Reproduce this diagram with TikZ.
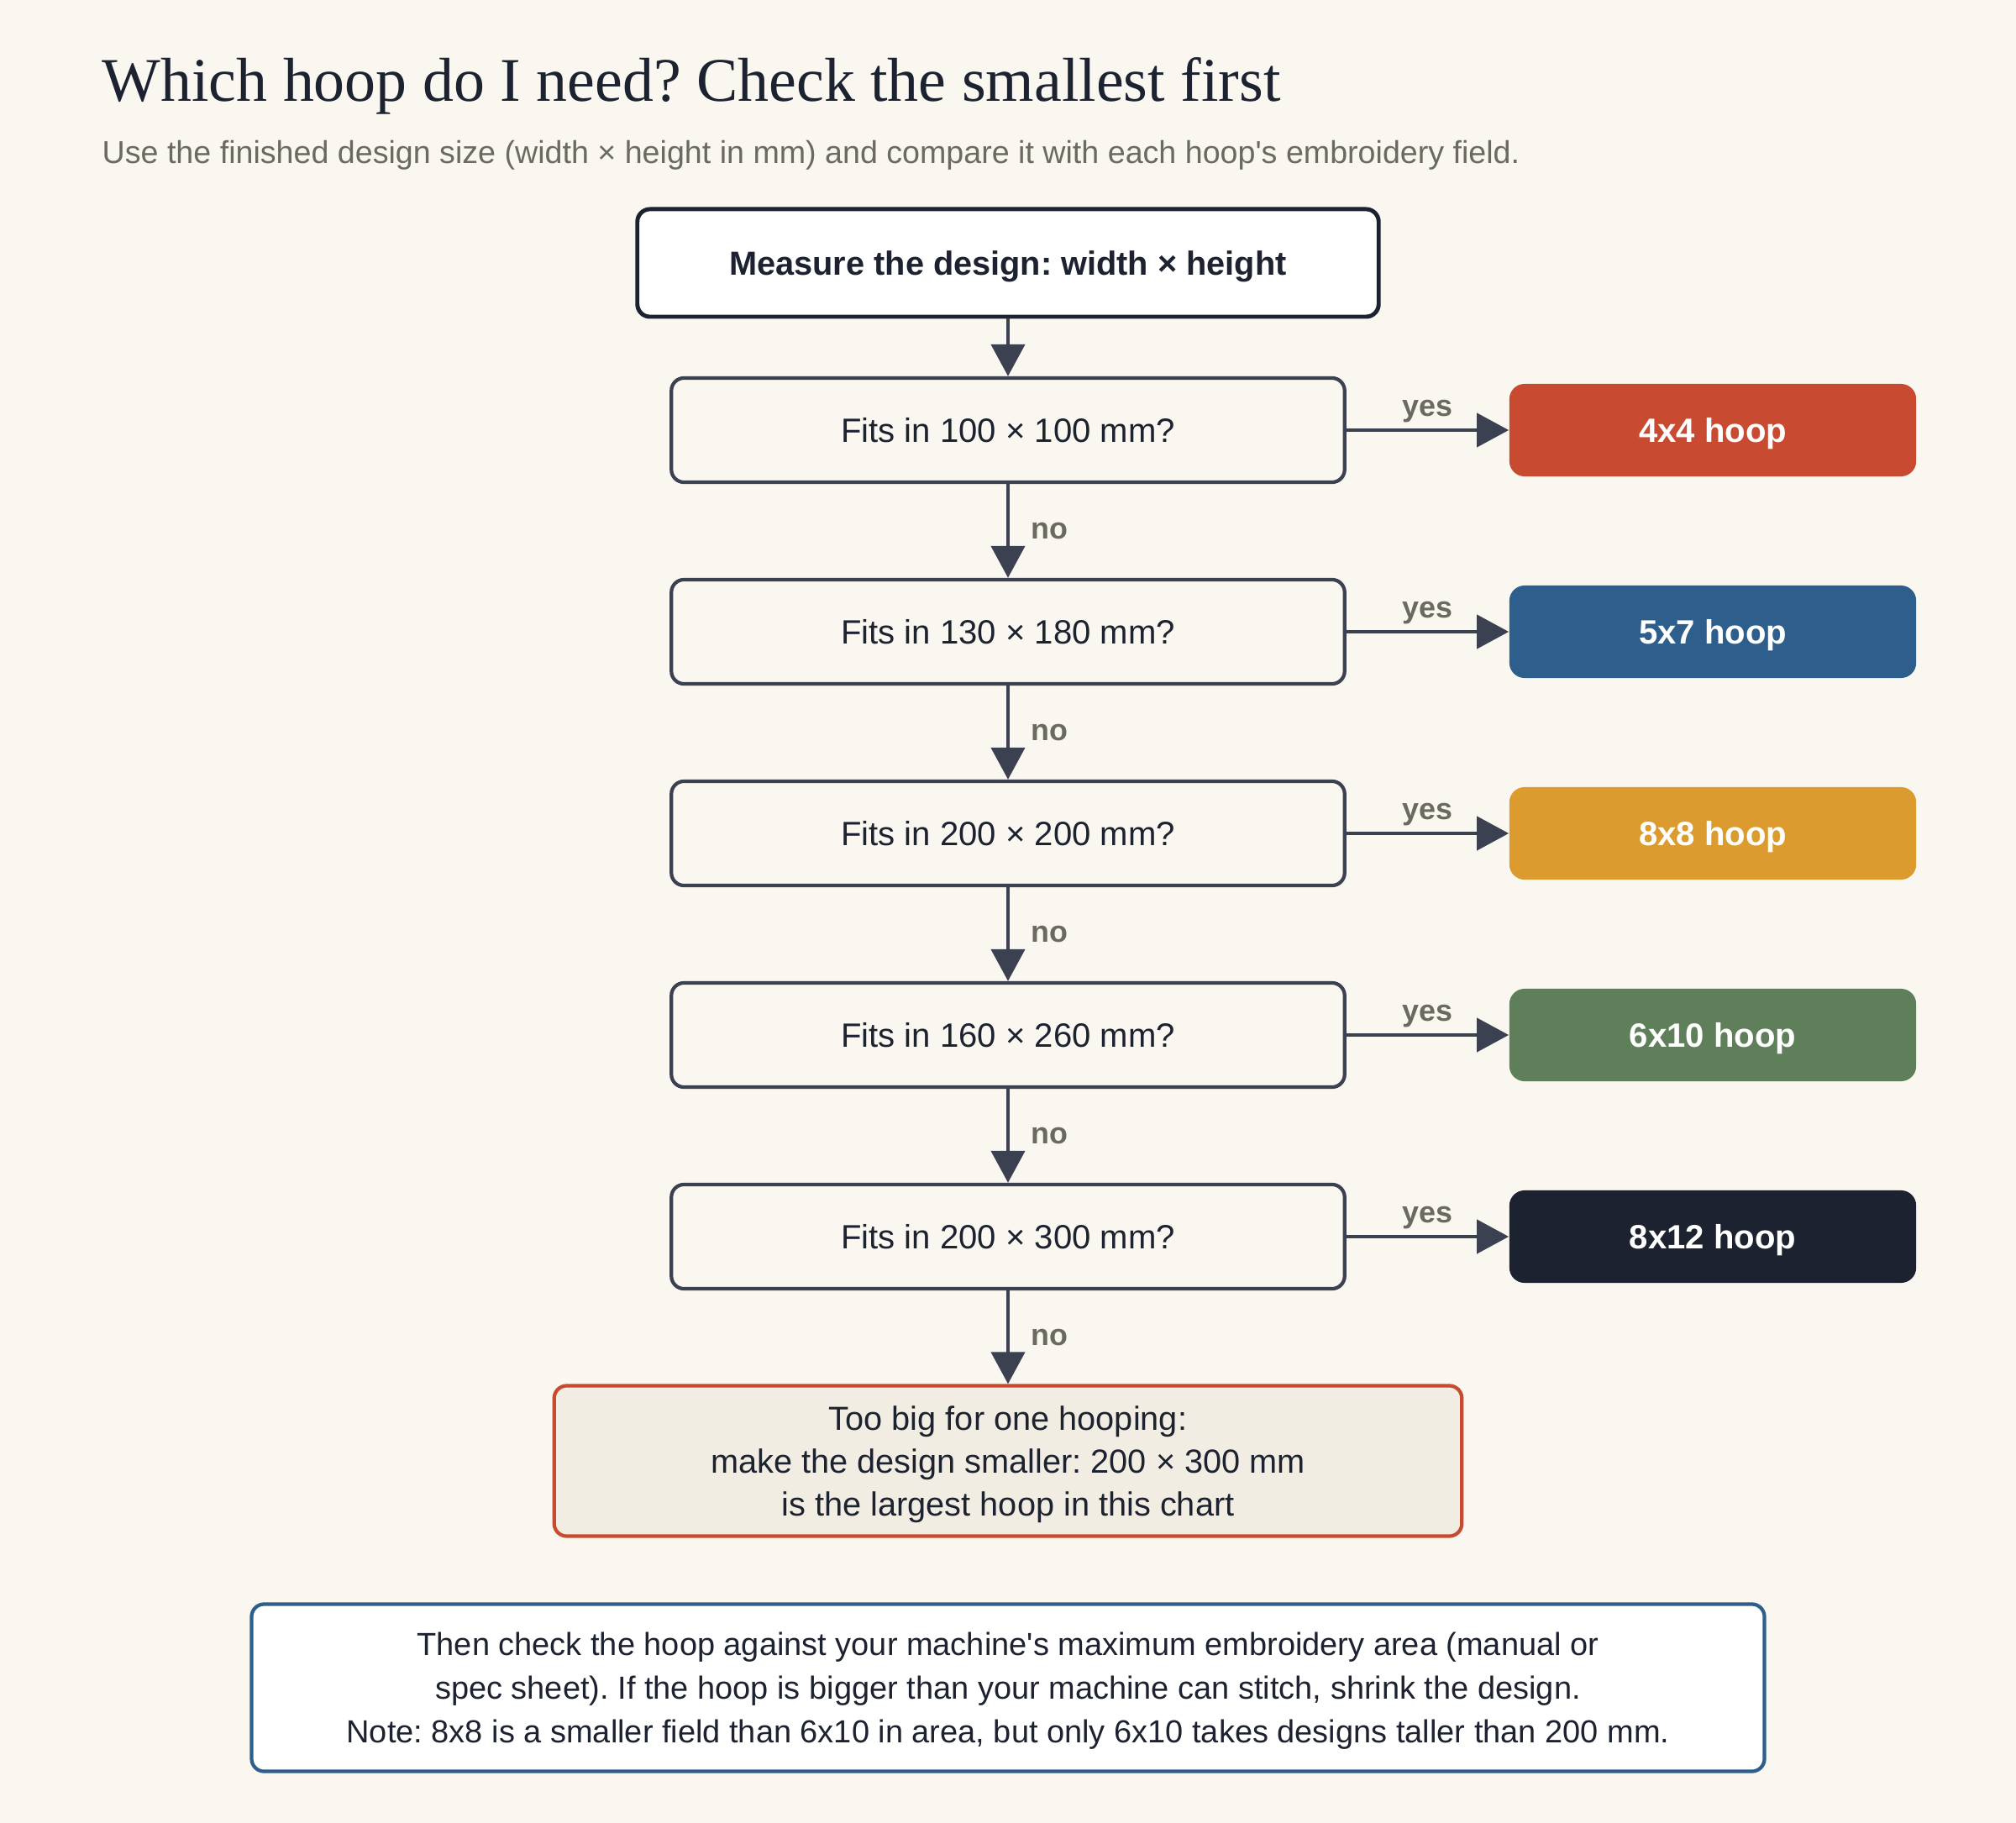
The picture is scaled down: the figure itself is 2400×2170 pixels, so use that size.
\documentclass[tikz,border=0pt]{standalone}
\usepackage{fontspec}
\setmainfont{Liberation Sans}
\newfontfamily\titlefont{Liberation Serif}
\usetikzlibrary{arrows.meta}
\frenchspacing
\definecolor{paper}{HTML}{FAF7F0}
\definecolor{ink}{HTML}{1C2230}
\definecolor{slate}{HTML}{3B4150}
\definecolor{muted}{HTML}{6B6A60}
\definecolor{rust}{HTML}{C84B31}
\definecolor{navy}{HTML}{2E5E8C}
\definecolor{mustard}{HTML}{DC9B2E}
\definecolor{sage}{HTML}{5F7F5A}
\definecolor{cream}{HTML}{F2EDE2}
\tikzset{
  box/.style={draw=slate, line width=1.2pt, rounded corners=0.15cm, fill=paper, text=ink, text depth=0pt,
    minimum width=8.01cm, minimum height=1.24cm, font=\fontsize{11.4}{13}\selectfont},
  hoop/.style={rounded corners=0.18cm, minimum width=4.84cm, minimum height=1.1cm, text depth=0pt,
    text=white, font=\bfseries\fontsize{11.4}{13}\selectfont},
  arr/.style={draw=slate, line width=1.2pt, -{Triangle[length=0.38cm,width=0.4cm]}},
  lbl/.style={text=muted, inner sep=1pt, font=\bfseries\fontsize{10.2}{11}\selectfont},
}
\begin{document}
\begin{tikzpicture}[x=0.01cm, y=-0.01cm]
\fill[paper] (0,0) rectangle (2400,2170);
\useasboundingbox (0,0) rectangle (2400,2170);
\node[anchor=base west, inner sep=0, text=ink, font=\titlefont\fontsize{21}{24}\selectfont] (title) at (121,121) {Which hoop do I need? Check the smallest first};
\node[anchor=base west, inner sep=0, text=muted, font=\fontsize{10.7}{12}\selectfont] (subtitle) at (121,195) {Use the finished design size (width × height in mm) and compare it with each hoop\textquotesingle s embroidery field.};

\node[box, draw=ink, line width=1.4pt, fill=white, minimum width=8.82cm, minimum height=1.28cm, font=\bfseries\fontsize{11.3}{13}\selectfont] (measure) at (1200,313) {Measure the design: width × height};
\node[box] (fit1) at (1200,512) {Fits in 100 × 100 mm?};
\node[box] (fit2) at (1200,752) {Fits in 130 × 180 mm?};
\node[box] (fit3) at (1200,992) {Fits in 200 × 200 mm?};
\node[box] (fit4) at (1200,1232) {Fits in 160 × 260 mm?};
\node[box] (fit5) at (1200,1472) {Fits in 200 × 300 mm?};

\node[hoop, fill=rust] (hoop1) at (2039,512) {4x4 hoop};
\node[hoop, fill=navy] (hoop2) at (2039,752) {5x7 hoop};
\node[hoop, fill=mustard] (hoop3) at (2039,992) {8x8 hoop};
\node[hoop, fill=sage] (hoop4) at (2039,1232) {6x10 hoop};
\node[hoop, fill=ink] (hoop5) at (2039,1472) {8x12 hoop};

\node[box, draw=rust, fill=cream, minimum width=10.8cm, minimum height=1.79cm, align=center, font=\fontsize{11.3}{14.5}\selectfont] (toobig) at (1200,1739) {Too big for one hooping:\\make the design smaller: 200 × 300 mm\\is the largest hoop in this chart};
\node[box, draw=navy, fill=white, minimum width=18cm, minimum height=1.99cm, align=center, font=\fontsize{10.8}{14.8}\selectfont] (note) at (1200,2009) {Then check the hoop against your machine\textquotesingle s maximum embroidery area (manual or\\spec sheet). If the hoop is bigger than your machine can stitch, shrink the design.\\Note: 8x8 is a smaller field than 6x10 in area, but only 6x10 takes designs taller than 200 mm.};

\draw[arr] (measure) -- (fit1);
\draw[arr] (fit1) -- node[lbl, right=0.22cm] {no} (fit2);
\draw[arr] (fit2) -- node[lbl, right=0.22cm] {no} (fit3);
\draw[arr] (fit3) -- node[lbl, right=0.22cm] {no} (fit4);
\draw[arr] (fit4) -- node[lbl, right=0.22cm] {no} (fit5);
\draw[arr] (fit5) -- node[lbl, right=0.22cm] {no} (toobig);
\draw[arr] (fit1) -- node[lbl, above=1pt] {yes} (hoop1);
\draw[arr] (fit2) -- node[lbl, above=1pt] {yes} (hoop2);
\draw[arr] (fit3) -- node[lbl, above=1pt] {yes} (hoop3);
\draw[arr] (fit4) -- node[lbl, above=1pt] {yes} (hoop4);
\draw[arr] (fit5) -- node[lbl, above=1pt] {yes} (hoop5);
\end{tikzpicture}
\end{document}
